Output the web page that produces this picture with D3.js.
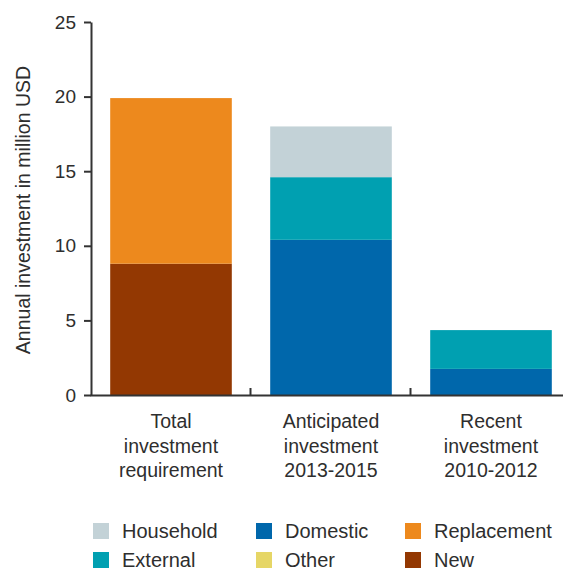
<!DOCTYPE html>
<html>
<head>
<meta charset="utf-8">
<script src="https://cdn.jsdelivr.net/npm/d3@7"></script>
<style>
  html, body { margin: 0; padding: 0; background: #fff; }
  svg { display: block; font-family: "Liberation Sans", Arial, Helvetica, sans-serif; }
</style>
</head>
<body>
<svg id="chart" width="563" height="570"></svg>
<script>
// Investment categories (x axis), each label split into lines
const categories = ["total", "anticipated", "recent"];
const categoryLabels = [
  ["Total", "investment", "requirement"],
  ["Anticipated", "investment", "2013-2015"],
  ["Recent", "investment", "2010-2012"]
];

// Stack components, bottom to top, in million USD per category
const seriesNames = ["New", "Replacement", "Domestic", "External", "Other", "Household"];
const newValues         = [8.8, 0, 0];
const replacementValues = [11.1, 0, 0];
const domesticValues    = [0, 10.4, 1.75];
const externalValues    = [0, 4.2, 2.6];
const otherValues       = [0, 0, 0];
const householdValues   = [0, 3.4, 0];

const yTicks = [0, 5, 10, 15, 20, 25];

// Legend layout: three columns of two entries
const legendColumns = [["Household", "External"], ["Domestic", "Other"], ["Replacement", "New"]];

const colors = {
  "Household": "#c3d2d7",
  "External": "#00a0b1",
  "Domestic": "#0067ab",
  "Other": "#e6d666",
  "Replacement": "#ed891d",
  "New": "#933802"
};

const valuesBySeries = {
  "New": newValues,
  "Replacement": replacementValues,
  "Domestic": domesticValues,
  "External": externalValues,
  "Other": otherValues,
  "Household": householdValues
};

const rows = categories.map((c, i) => {
  const r = { category: c };
  seriesNames.forEach(s => { r[s] = valuesBySeries[s][i]; });
  return r;
});

const svg = d3.select("#chart");
const textColor = "#2e2e2e";
const axisColor = "#333";

const x = d3.scaleBand().domain(categories).range([90, 570]).padding(0);
const barWidth = x.bandwidth() * 0.76;
const y = d3.scaleLinear().domain([0, 25]).range([395, 22]);

const stack = d3.stack().keys(seriesNames);
const layers = stack(rows);

// Stacked bars
svg.append("g")
  .selectAll("g")
  .data(layers)
  .join("g")
  .attr("fill", d => colors[d.key])
  .selectAll("rect")
  .data(d => d)
  .join("rect")
  .attr("x", d => x(d.data.category) + (x.bandwidth() - barWidth) / 2 + 1)
  .attr("width", barWidth)
  .attr("y", d => y(d[1]))
  .attr("height", d => Math.max(0, y(d[0]) - y(d[1])));

// Y axis
const yAxis = svg.append("g")
  .attr("transform", "translate(91,0)")
  .call(d3.axisLeft(y).tickValues(yTicks).tickSize(7).tickSizeOuter(0).tickPadding(8));
yAxis.select(".domain").attr("stroke", axisColor).attr("stroke-width", 2);
yAxis.selectAll(".tick line").attr("stroke", axisColor).attr("stroke-width", 2);
yAxis.selectAll(".tick text")
  .attr("fill", textColor)
  .style("font-size", "19px")
  .style("font-family", "'Liberation Sans', Arial, sans-serif");

// X axis baseline with separators between categories
const xBoundary = d3.scaleLinear().domain([0, categories.length]).range([90, 570]);
const xAxis = svg.append("g")
  .attr("transform", `translate(0,${y(0)})`)
  .call(d3.axisBottom(xBoundary).tickValues([1, 2]).tickSize(-7).tickSizeOuter(0).tickFormat(""));
xAxis.select(".domain").attr("stroke", axisColor).attr("stroke-width", 2);
xAxis.selectAll(".tick line").attr("stroke", axisColor).attr("stroke-width", 2);

// Category labels
const catLabels = svg.append("g")
  .selectAll("text")
  .data(categories)
  .join("text")
  .attr("x", d => x(d) + x.bandwidth() / 2 + 1)
  .attr("y", 428)
  .attr("text-anchor", "middle")
  .attr("fill", textColor)
  .style("font-size", "19.5px");
catLabels.selectAll("tspan")
  .data((d, i) => categoryLabels[i])
  .join("tspan")
  .attr("x", function () { return d3.select(this.parentNode).attr("x"); })
  .attr("dy", (d, i) => i === 0 ? 0 : 24.5)
  .text(d => d);

// Y axis title
svg.append("text")
  .attr("transform", "translate(30,210) rotate(-90)")
  .attr("text-anchor", "middle")
  .attr("fill", textColor)
  .style("font-size", "19.5px")
  .text("Annual investment in million USD");

// Legend
const legendX = [93, 256, 405];
const legendY = [531, 560];
const legend = svg.append("g");
legendColumns.forEach((col, ci) => {
  col.forEach((name, ri) => {
    const g = legend.append("g").attr("transform", `translate(${legendX[ci]},${legendY[ri]})`);
    g.append("rect")
      .attr("x", 0).attr("y", -8)
      .attr("width", 16).attr("height", 16)
      .attr("fill", colors[name]);
    g.append("text")
      .attr("x", 29).attr("y", 7)
      .attr("fill", textColor)
      .style("font-size", "20px")
      .text(name);
  });
});
</script>
</body>
</html>
